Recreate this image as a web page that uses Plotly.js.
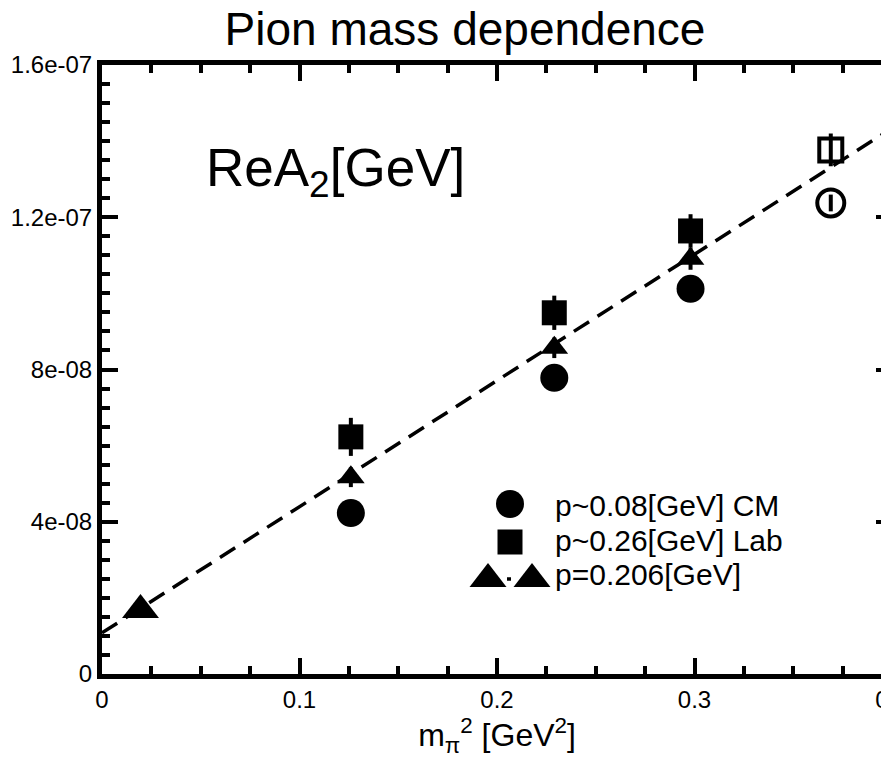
<!DOCTYPE html>
<html><head><meta charset="utf-8">
<script src="https://cdn.plot.ly/plotly-3.0.1.min.js"></script>
<style>html,body{margin:0;padding:0;overflow:hidden;background:#fff}</style>
</head><body><div id="chart"></div>
<script>
// ---- data ----
const mpi2 = [0.126, 0.229, 0.298, 0.369];
const cmValues = [4.23e-8, 7.78e-8, 1.012e-7, 1.2375e-7];
const cmErrors = [2.5e-9, 2.5e-9, 2.4e-9, 2.2e-9];
const labValues = [6.23e-8, 9.49e-8, 1.164e-7, 1.377e-7];
const labErrors = [5.0e-9, 4.5e-9, 4.4e-9, 4.3e-9];
const triX = [0.126, 0.229, 0.298];
const triValues = [5.17e-8, 8.57e-8, 1.091e-7];
const triErrors = [2.6e-9, 2.7e-9, 2.9e-9];
const physX = [0.0195];
const physValues = [1.68e-8];
const fitX = [0, 0.4];
const fitY = [1.08e-8, 1.434e-7];
const xRange = [0, 0.4];
const yRange = [0, 1.6e-7];
const xTickVals = [0, 0.1, 0.2, 0.3, 0.4];
const xTickText = ['0', '0.1', '0.2', '0.3', '0.4'];
const yTickVals = [0, 4e-8, 8e-8, 1.2e-7, 1.6e-7];
const yTickText = ['0', '4e-08', '8e-08', '1.2e-07', '1.6e-07'];
const legendLabels = ['p~0.08[GeV] CM', 'p~0.26[GeV] Lab', 'p=0.206[GeV]'];
const titleText = 'Pion mass dependence';
const panelLabel = 'ReA<sub>2</sub>[GeV]';
const xTitle = 'm<sub>π</sub><sup>2</sup> [GeV<sup>2</sup>]';

// ---- layout geometry (pixels) ----
const W = 920, H = 761;
const L = 102, R = 892, T = 65, B = 674;
const px = x => (x - L) / (R - L);
const py = y => (B - y) / (B - T);
// legend symbol placement: pixel position -> axis coordinates
const lx = x => xRange[0] + px(x) * (xRange[1] - xRange[0]);
const ly = y => yRange[0] + py(y) * (yRange[1] - yRange[0]);
const FONT = 'Liberation Sans, Arial, Helvetica, sans-serif';
const K = 'black';

const openCM = cmValues.map((v, i) => i === cmValues.length - 1);
const openLab = labValues.map((v, i) => i === labValues.length - 1);

const traces = [
  {x: fitX, y: fitY, xaxis: 'x2', mode: 'lines', line: {color: K, width: 3.5, dash: '18px,10px'}, hoverinfo: 'skip'},
  {x: mpi2, y: cmValues, mode: 'markers',
   error_y: {type: 'data', array: cmErrors, visible: true, color: K, thickness: 4, width: 0},
   marker: {color: K, opacity: 1, symbol: openCM.map(o => o ? 'circle-open' : 'circle'),
            size: openCM.map(o => o ? 27 : 28),
            line: {color: K, width: openCM.map(o => o ? 4 : 0)}}},
  {x: mpi2, y: labValues, mode: 'markers',
   error_y: {type: 'data', array: labErrors, visible: true, color: K, thickness: 4, width: 0},
   marker: {color: K, opacity: 1, symbol: openLab.map(o => o ? 'square-open' : 'square'),
            size: openLab.map(o => o ? 23 : 25),
            line: {color: K, width: openLab.map(o => o ? 4 : 0)}}},
  {x: triX, y: triValues, mode: 'markers',
   error_y: {type: 'data', array: triErrors, visible: true, color: K, thickness: 4, width: 0},
   marker: {color: K, opacity: 1, symbol: 'triangle-up', size: 24}},
  {x: physX, y: physValues, mode: 'markers',
   marker: {color: K, opacity: 1, symbol: 'triangle-up', size: 32}},
  // legend symbols
  {x: [lx(510)], y: [ly(504)], mode: 'markers', cliponaxis: false,
   marker: {color: K, opacity: 1, symbol: 'circle', size: 28}},
  {x: [lx(510)], y: [ly(542)], mode: 'markers', cliponaxis: false,
   marker: {color: K, opacity: 1, symbol: 'square', size: 25}},
  {x: [lx(488), lx(532)], y: [ly(579), ly(579)], mode: 'lines+markers', cliponaxis: false,
   line: {color: K, width: 3.5, dash: '0px,19px,4px,100px'},
   marker: {color: K, opacity: 1, symbol: 'triangle-up', size: 32}}
];

const tickStyle = {
  ticks: 'inside', ticklen: 16, tickwidth: 4, tickcolor: K,
  tickmode: 'array', showgrid: false, zeroline: false
};
const axisCommon = Object.assign({
  showline: true, linewidth: 5, linecolor: K, mirror: 'ticks',
  tickfont: {family: FONT, size: 24, color: K}
}, tickStyle);
const xMinor = {tickmode: 'linear', tick0: 0, dtick: 0.025, ticks: 'inside', ticklen: 8, tickwidth: 4, tickcolor: K, showgrid: false};

const layout = {
  width: W, height: H,
  margin: {l: L, r: W - R, t: T, b: H - B, pad: 0},
  paper_bgcolor: '#fff', plot_bgcolor: '#fff',
  showlegend: false,
  font: {family: FONT, color: K},
  title: {text: titleText, font: {family: FONT, size: 46, color: K},
          xref: 'paper', x: px(465), xanchor: 'center',
          yref: 'container', y: 1 - 29 / H, yanchor: 'middle'},
  xaxis: Object.assign({}, axisCommon, {
    range: xRange, tickvals: xTickVals, ticktext: xTickText, minor: xMinor,
    title: {text: xTitle, font: {family: FONT, size: 32, color: K}, standoff: 8}
  }),
  // top axis: ticks only (mirror of the bottom axis)
  xaxis2: Object.assign({}, tickStyle, {
    overlaying: 'x', side: 'top', anchor: 'y', range: xRange, tickvals: xTickVals,
    showticklabels: false, showline: false, minor: xMinor
  }),
  yaxis: Object.assign({}, axisCommon, {
    range: yRange, tickvals: yTickVals, ticktext: yTickText,
    minor: {tickmode: 'linear', tick0: 0, dtick: 5e-9, ticks: 'inside', ticklen: 8, tickwidth: 4, tickcolor: K, showgrid: false}
  }),
  annotations: [
    {text: panelLabel, xref: 'paper', yref: 'paper', x: px(204), y: py(171), xanchor: 'left', yanchor: 'middle',
     showarrow: false, font: {family: FONT, size: 53, color: K}},
    {text: legendLabels[0], xref: 'paper', yref: 'paper', x: px(553), y: py(505), xanchor: 'left', yanchor: 'middle',
     showarrow: false, font: {family: FONT, size: 30, color: K}},
    {text: legendLabels[1], xref: 'paper', yref: 'paper', x: px(553), y: py(540), xanchor: 'left', yanchor: 'middle',
     showarrow: false, font: {family: FONT, size: 30, color: K}},
    {text: legendLabels[2], xref: 'paper', yref: 'paper', x: px(553), y: py(574), xanchor: 'left', yanchor: 'middle',
     showarrow: false, font: {family: FONT, size: 30, color: K}}
  ]
};

Plotly.newPlot('chart', traces, layout, {staticPlot: true, displayModeBar: false});
</script>
</body></html>
